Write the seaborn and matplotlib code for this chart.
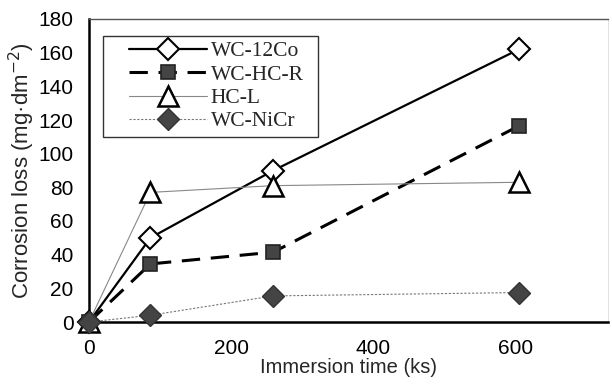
import matplotlib
matplotlib.use("Agg")
import matplotlib.pyplot as plt
from matplotlib.lines import Line2D
from matplotlib.legend_handler import HandlerLine2D
import seaborn as sns
import pandas as pd

time_ks = [0, 86.4, 259.2, 604.8]
wc_12co = [0, 50, 90, 162]
wc_hc_r = [0, 34.5, 41.5, 116.5]
hc_l = [0, 77, 81, 83]
wc_nicr = [0, 4, 15.5, 17.5]
series_names = ["WC-12Co", "WC-HC-R", "HC-L", "WC-NiCr"]
y_ticks = [0, 20, 40, 60, 80, 100, 120, 140, 160, 180]
x_ticks = [0, 200, 400, 600]

sns.set_theme(style="white")
plt.rcParams['font.family'] = ['Liberation Sans', 'DejaVu Sans']

frames = []
for name, vals in zip(series_names, [wc_12co, wc_hc_r, hc_l, wc_nicr]):
    frames.append(pd.DataFrame({"time": time_ks, "loss": vals, "series": name}))
df = pd.concat(frames, ignore_index=True)

styles = {
    "WC-12Co": dict(color="black", lw=1.6, ls="-", marker="D", ms=11, mfc="white", mec="black", mew=1.5),
    "WC-HC-R": dict(color="black", lw=2.2, ls=(0, (6, 3.5)), marker="s", ms=10, mfc="#444444", mec="#222222", mew=1.2),
    "HC-L": dict(color="#888888", lw=0.8, ls="-", marker="^", ms=15, mfc="white", mec="black", mew=1.8),
    "WC-NiCr": dict(color="#777777", lw=0.8, ls=(0, (2, 1.5)), marker="D", ms=11, mfc="#444444", mec="#333333", mew=1.0),
}

fig = plt.figure(figsize=(6.12, 3.87), dpi=100)
ax = fig.add_axes([89/612, 1 - 322/387, (608-89)/612, (322-19)/387])

for name in series_names:
    st = styles[name]
    sub = df[df["series"] == name]
    sns.lineplot(data=sub, x="time", y="loss", ax=ax, label=name,
                 color=st["color"], linewidth=st["lw"], linestyle=st["ls"],
                 marker=st["marker"], markersize=st["ms"], markerfacecolor=st["mfc"],
                 markeredgecolor=st["mec"], markeredgewidth=st["mew"], clip_on=False, zorder=3)

ax.set_xlim(0, 730)
ax.set_ylim(0, 180)
ax.set_xticks(x_ticks)
ax.set_yticks(y_ticks)
ax.tick_params(axis="both", direction="in", length=4, width=1, labelsize=15, colors="black")
ax.tick_params(axis="y", pad=11)
ax.tick_params(axis="x", pad=12)
ax.set_xlabel("Immersion time (ks)", fontsize=14.5, labelpad=0)
ax.set_ylabel("Corrosion loss (mg·dm$^{-2}$)", fontsize=16, labelpad=1)
for s in ["left", "bottom"]:
    ax.spines[s].set_color("black")
    ax.spines[s].set_linewidth(1.8)
ax.spines["top"].set_color("#555555")
ax.spines["top"].set_linewidth(1.0)
ax.spines["right"].set_color("#dddddd")
ax.spines["right"].set_linewidth(0.6)

x0 = (103 - 89) / 519
w = (318 - 103) / 519
y0 = (322 - 137) / 303
h = (137 - 36) / 303
leg = ax.legend(loc="upper left", bbox_to_anchor=(x0, y0, w, h), mode="expand",
                borderaxespad=0, frameon=True, fancybox=False, edgecolor="black",
                handlelength=4.6, handletextpad=0.15, borderpad=0.25, labelspacing=0.15,
                handler_map={Line2D: HandlerLine2D(xpad=0.95)},
                prop={"family": "Liberation Serif", "size": 15.5})
leg.get_frame().set_linewidth(1.0)

fig.savefig("out.png", dpi=100)
